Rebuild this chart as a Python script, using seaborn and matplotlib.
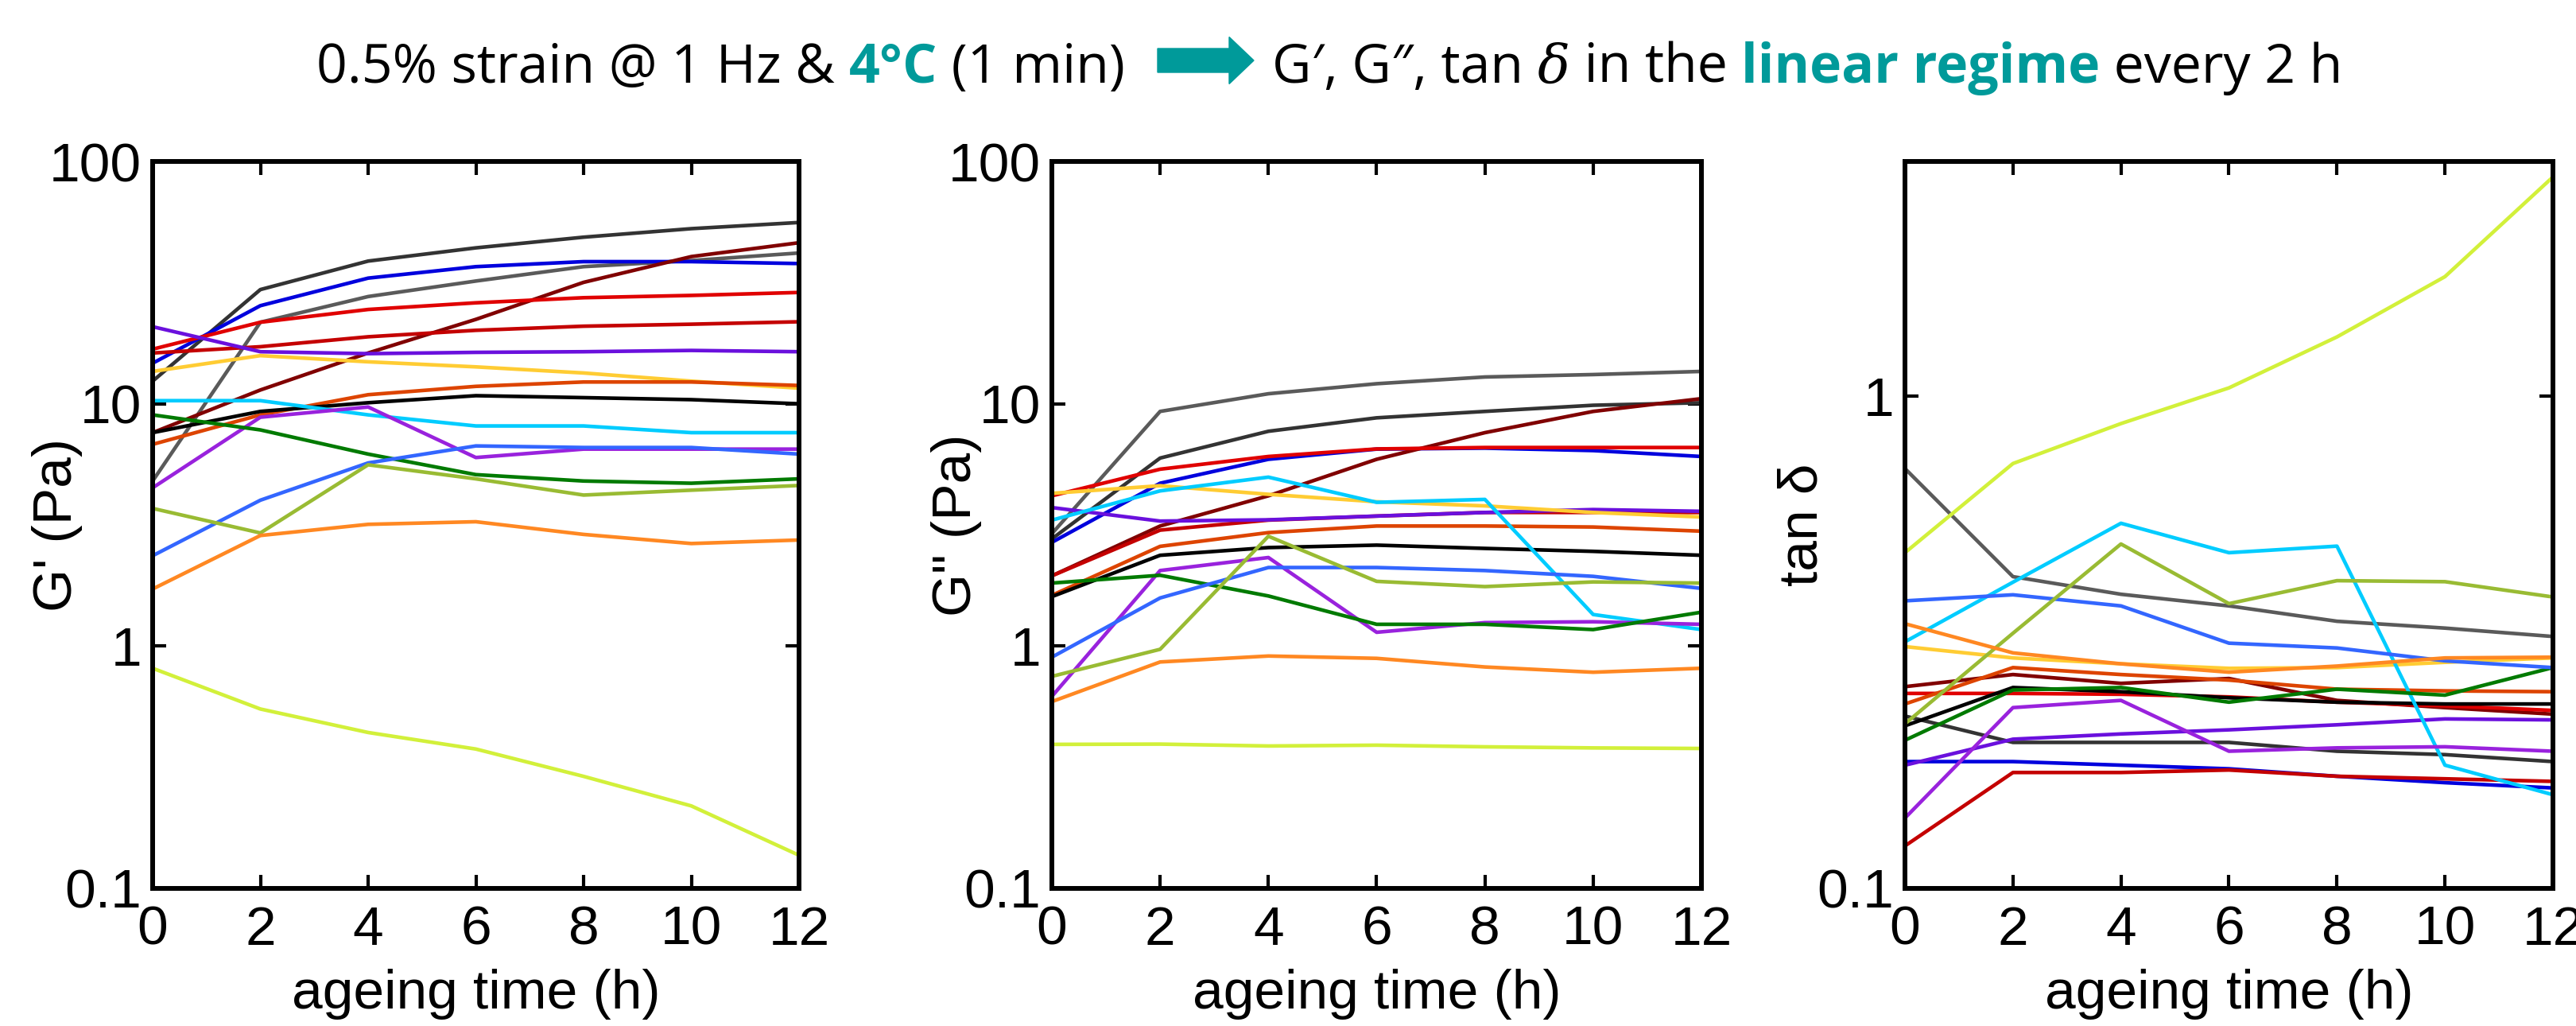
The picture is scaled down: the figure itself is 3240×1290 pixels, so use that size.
import numpy as np
import pandas as pd
import matplotlib
matplotlib.use("Agg")
import matplotlib.pyplot as plt
import seaborn as sns
from matplotlib.transforms import IdentityTransform
from matplotlib.patches import FancyArrow
from matplotlib.ticker import FixedLocator, FixedFormatter, NullLocator

# ---------------- data ----------------
ageing_time_h = [0, 2, 4, 6, 8, 10, 12]

sample_names = ["S1", "S2", "S3", "S4", "S5", "S6", "S7", "S8", "S9",
                "S10", "S11", "S12", "S13", "S14", "S15", "S16", "S17"]
sample_colors = ["#333333", "#5a5a5a", "#0000dd", "#800000", "#e00000",
                 "#c40000", "#6a10dd", "#ffcc33", "#dd4400", "#000000",
                 "#00ccff", "#9922dd", "#007a00", "#3366ff", "#99bb33",
                 "#ff8822", "#d2f03a"]

# G' (Pa)
g_prime = [
    [12.4, 29.6, 38.8, 44.0, 48.7, 52.8, 56.0],
    [4.8, 21.7, 27.7, 32.1, 36.8, 39.0, 41.9],
    [14.7, 25.4, 33.0, 36.8, 38.6, 38.6, 37.9],
    [7.6, 11.4, 16.2, 22.3, 31.7, 40.5, 46.2],
    [16.8, 21.7, 24.5, 26.1, 27.4, 28.0, 28.8],
    [16.2, 17.2, 18.9, 20.1, 20.9, 21.3, 21.8],
    [20.8, 16.4, 16.1, 16.3, 16.4, 16.6, 16.4],
    [13.6, 15.8, 14.9, 14.2, 13.4, 12.4, 11.6],
    [6.8, 9.0, 10.9, 11.8, 12.3, 12.3, 11.9],
    [7.6, 9.3, 10.1, 10.8, 10.6, 10.4, 10.0],
    [10.3, 10.3, 9.0, 8.1, 8.1, 7.6, 7.6],
    [4.5, 8.8, 9.7, 6.0, 6.5, 6.5, 6.5],
    [9.0, 7.8, 6.2, 5.1, 4.8, 4.7, 4.9],
    [2.36, 4.0, 5.7, 6.7, 6.6, 6.6, 6.2],
    [3.7, 2.93, 5.6, 4.9, 4.2, 4.4, 4.6],
    [1.72, 2.86, 3.18, 3.26, 2.89, 2.65, 2.74],
    [0.81, 0.55, 0.44, 0.376, 0.29, 0.219, 0.137],
]

# G" (Pa)
g_double_prime = [
    [2.77, 5.97, 7.7, 8.75, 9.3, 9.86, 10.1],
    [2.91, 9.3, 11.0, 12.1, 12.9, 13.2, 13.6],
    [2.68, 4.7, 5.9, 6.5, 6.56, 6.41, 6.06],
    [1.95, 3.13, 4.17, 5.9, 7.6, 9.3, 10.5],
    [4.17, 5.37, 6.06, 6.51, 6.6, 6.6, 6.6],
    [1.95, 3.01, 3.31, 3.44, 3.56, 3.56, 3.56],
    [3.73, 3.28, 3.32, 3.44, 3.56, 3.66, 3.6],
    [4.27, 4.59, 4.23, 3.94, 3.79, 3.56, 3.41],
    [1.62, 2.58, 2.94, 3.13, 3.13, 3.10, 2.98],
    [1.60, 2.37, 2.55, 2.61, 2.53, 2.46, 2.37],
    [3.31, 4.37, 4.98, 3.92, 4.03, 1.35, 1.17],
    [0.62, 2.05, 2.32, 1.14, 1.25, 1.26, 1.23],
    [1.82, 1.96, 1.61, 1.23, 1.23, 1.17, 1.38],
    [0.90, 1.58, 2.11, 2.11, 2.05, 1.94, 1.73],
    [0.75, 0.97, 2.84, 1.85, 1.76, 1.84, 1.82],
    [0.59, 0.86, 0.91, 0.89, 0.82, 0.78, 0.81],
    [0.393, 0.394, 0.387, 0.39, 0.384, 0.38, 0.378],
]

# tan delta
tan_delta = [
    [0.224, 0.198, 0.198, 0.198, 0.190, 0.187, 0.181],
    [0.713, 0.430, 0.396, 0.375, 0.349, 0.338, 0.325],
    [0.181, 0.181, 0.178, 0.175, 0.169, 0.164, 0.160],
    [0.257, 0.272, 0.261, 0.267, 0.241, 0.233, 0.226],
    [0.249, 0.249, 0.248, 0.245, 0.239, 0.235, 0.230],
    [0.122, 0.172, 0.172, 0.174, 0.169, 0.167, 0.165],
    [0.178, 0.201, 0.206, 0.210, 0.215, 0.221, 0.220],
    [0.310, 0.294, 0.286, 0.280, 0.281, 0.288, 0.294],
    [0.237, 0.281, 0.272, 0.265, 0.254, 0.252, 0.251],
    [0.214, 0.256, 0.251, 0.244, 0.239, 0.237, 0.237],
    [0.317, 0.419, 0.552, 0.481, 0.496, 0.178, 0.155],
    [0.139, 0.233, 0.241, 0.190, 0.193, 0.194, 0.190],
    [0.200, 0.253, 0.256, 0.239, 0.254, 0.247, 0.281],
    [0.384, 0.395, 0.375, 0.315, 0.308, 0.290, 0.281],
    [0.216, 0.330, 0.501, 0.379, 0.422, 0.420, 0.391],
    [0.345, 0.301, 0.286, 0.275, 0.283, 0.294, 0.295],
    [0.481, 0.730, 0.880, 1.040, 1.320, 1.750, 2.790],
]

x_ticks = [0, 2, 4, 6, 8, 10, 12]
y_ticks_g = [0.1, 1, 10, 100]
y_ticklabels_g = ["0.1", "1", "10", "100"]
y_ticks_tan = [0.1, 1]
y_ticklabels_tan = ["0.1", "1"]

# ---------------- style ----------------
sns.set_theme(style="white")
plt.rcParams["font.family"] = ["Liberation Sans", "DejaVu Sans"]

W, H = 3241, 1290
fig = plt.figure(figsize=(W / 100, H / 100), dpi=100)
fig.patch.set_facecolor("white")

panel_x = [(192, 1005), (1323, 2140), (2396, 3211)]
top_px, bottom_px = 203, 1117

panels = [
    (g_prime, "G' (Pa)", (0.1, 100), y_ticks_g, y_ticklabels_g, -0.108),
    (g_double_prime, 'G" (Pa)', (0.1, 100), y_ticks_g, y_ticklabels_g, -0.108),
    (tan_delta, "tan δ", (0.1, 3), y_ticks_tan, y_ticklabels_tan, -0.118),
]

palette = dict(zip(sample_names, sample_colors))
FS = 50

for (l, r), (vals, ylab, ylim, yt, ytl, ylx) in zip(panel_x, panels):
    ax = fig.add_axes([l / W, 1 - bottom_px / H, (r - l) / W, (bottom_px - top_px) / H])
    rows = []
    for name, series in zip(sample_names, vals):
        for t, v in zip(ageing_time_h, series):
            rows.append((name, t, v))
    df = pd.DataFrame(rows, columns=["sample", "time", "value"])
    ax.set_yscale("log")
    sns.lineplot(data=df, x="time", y="value", hue="sample", hue_order=sample_names,
                 palette=palette, legend=False, ax=ax, linewidth=3.3,
                 estimator=None, sort=False)
    ax.set_xlim(0, 12)
    ax.set_ylim(*ylim)
    ax.xaxis.set_major_locator(FixedLocator(x_ticks))
    ax.yaxis.set_major_locator(FixedLocator(yt))
    ax.yaxis.set_major_formatter(FixedFormatter(ytl))
    ax.yaxis.set_minor_locator(NullLocator())
    ax.xaxis.set_minor_locator(NullLocator())
    for s in ax.spines.values():
        s.set_visible(True)
        s.set_linewidth(4.3)
        s.set_color("black")
    ax.tick_params(axis="both", which="major", direction="in", length=12, width=3,
                   top=True, right=True, bottom=True, left=True,
                   labelsize=FS, colors="black")
    ax.tick_params(axis="x", pad=15)
    ax.tick_params(axis="y", pad=10)
    ax.set_xlabel("ageing time (h)", fontsize=FS, labelpad=12, color="black")
    ax.set_ylabel(ylab, fontsize=FS, color="black")
    ax.yaxis.set_label_coords(ylx, 0.5)
    ax.set_facecolor("white")
    ax.grid(False)

# ---------------- title ----------------
teal = "#009a9a"
fig.canvas.draw()
renderer = fig.canvas.get_renderer()
ident = IdentityTransform()
base_y = H - 104
title_fam = ["Open Sans", "DejaVu Sans"]
TFS = 49

pieces_1 = [
    ("0.5% strain @ 1 Hz & ", "black", "normal", "normal", title_fam),
    ("4°C", teal, "bold", "normal", title_fam),
    (" (1 min)", "black", "normal", "normal", title_fam),
]
pieces_2 = [
    ("G′, G″, tan ", "black", "normal", "normal", title_fam),
    ("δ", "black", "normal", "italic", ["DejaVu Serif"]),
    (" in the ", "black", "normal", "normal", title_fam),
    ("linear regime", teal, "bold", "normal", title_fam),
    (" every 2 h", "black", "normal", "normal", title_fam),
]


def place_right(pieces, x):
    for txt, col, wt, st, fam in reversed(pieces):
        t = fig.text(x, base_y, txt, transform=ident, fontsize=TFS, color=col,
                     fontweight=wt, fontstyle=st, family=fam, va="baseline", ha="right")
        x = t.get_window_extent(renderer=renderer).x0
    return x


def place_left(pieces, x):
    for txt, col, wt, st, fam in pieces:
        t = fig.text(x, base_y, txt, transform=ident, fontsize=TFS, color=col,
                     fontweight=wt, fontstyle=st, family=fam, va="baseline", ha="left")
        x = t.get_window_extent(renderer=renderer).x1
    return x


place_right(pieces_1, 1415)
arrow_x0, arrow_x1 = 1456, 1577
fig.patches.append(FancyArrow(arrow_x0, H - 76, arrow_x1 - arrow_x0, 0, width=30,
                              head_width=59, head_length=31, length_includes_head=True,
                              transform=ident, color=teal, figure=fig))
place_left(pieces_2, 1600)

fig.savefig("out.png", dpi=100, facecolor="white")
